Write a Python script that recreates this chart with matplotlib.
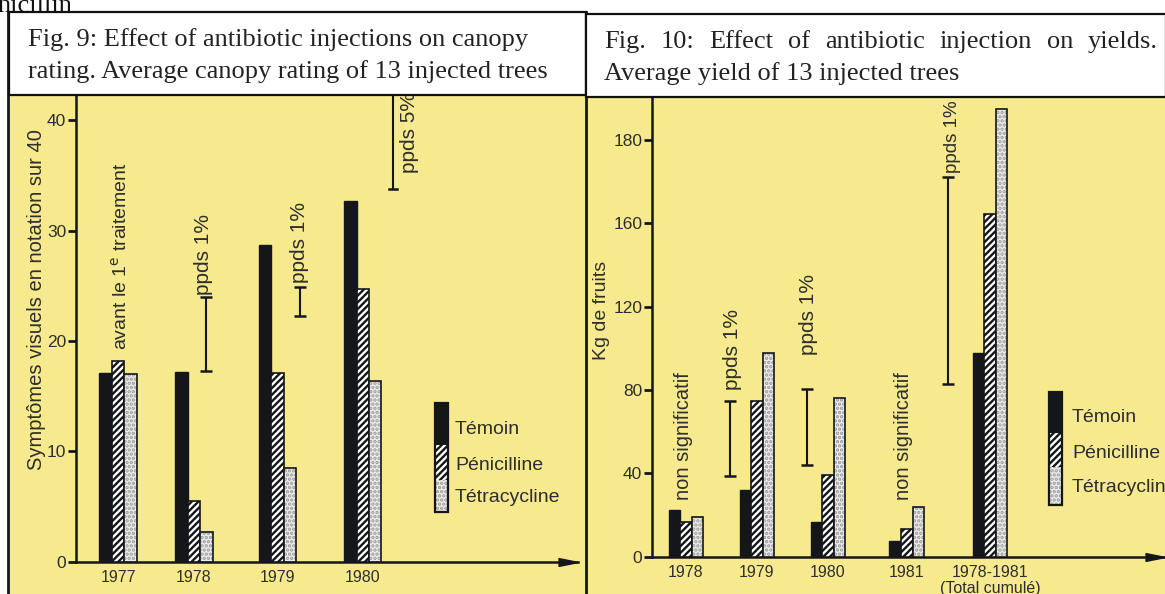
import matplotlib
matplotlib.use("Agg")
import matplotlib.pyplot as plt
from matplotlib.patches import Rectangle
from matplotlib.path import Path
from matplotlib.lines import Line2D

plt.rcParams["font.family"] = ["Liberation Sans", "DejaVu Sans"]
plt.rcParams["hatch.linewidth"] = 1.7

# ---- data: Fig. 9, canopy rating (notation sur 40)
years_l = ["1977", "1978", "1979", "1980"]
temoin_l = [17.1, 17.2, 28.7, 32.7]
penic_l = [18.2, 5.5, 17.1, 24.7]
tetra_l = [17.0, 2.7, 8.45, 16.4]
lsd_low_l = [17.3, 22.3, 33.8]
lsd_high_l = [24.0, 24.9, None]      # None: runs off the top
lsd_text_l = ["ppds 1%", "ppds 1%", "ppds 5%"]

# ---- data: Fig. 10, yields (kg de fruits)
years_r = ["1978", "1979", "1980", "1981", "1978-1981\n(Total cumulé)"]
temoin_r = [22.3, 32.1, 16.7, 7.6, 97.6]
penic_r = [16.5, 74.7, 39.3, 13.4, 164.3]
tetra_r = [19.1, 97.8, 76.3, 23.9, 214.8]
lsd_low_r = [38.6, 44.0, 82.9]
lsd_high_r = [74.7, 80.6, 182.0]
yticks_r = [0, 40, 80, 120, 160, 200]
ytick_labels_r = ["0", "40", "80", "120", "160", "180"]

legend_names = ["Témoin", "Pénicilline", "Tétracycline"]

# ---- layout (pixels of the 1165x594 picture)
W, H = 1165, 594
YELLOW = "#f6e98e"
INK = "#15161a"
TXT = "#2e2e2e"
STIP = "#ececea"
pos_l = [0, 1, 2.1, 3.22]
pos_r = [0, 1, 2, 3.11, 4.28]
bw = 0.163
FS = 14


def fig_box(x0, y0, x1, y1):
    return [x0 / W, 1 - y1 / H, (x1 - x0) / W, (y1 - y0) / H]


fig = plt.figure(figsize=(W / 100, H / 100), dpi=100)
fig.patch.set_facecolor("white")

# yellow panels and borders
for x0, y0, x1 in [(8, 93, 585), (586, 95, 1165)]:
    b = fig_box(x0, y0, x1, H)
    fig.add_artist(Rectangle((b[0], b[1]), b[2], b[3], transform=fig.transFigure,
                             facecolor=YELLOW, edgecolor="none", zorder=-2))
for x in [7.5, 585.5]:
    fig.add_artist(Line2D([x / W, x / W], [0, 1 - 12 / H], transform=fig.transFigure,
                          color=INK, lw=2, zorder=-1))

arrow = Path([(0, 0), (-1, 0.2), (-1, -0.2), (0, 0)],
             [Path.MOVETO, Path.LINETO, Path.LINETO, Path.CLOSEPOLY])


def draw_bars(ax, pos, t, p, c):
    xs = [x - bw for x in pos]
    ax.bar(xs, t, bw, color=INK, edgecolor=INK, lw=1, zorder=3)
    xs = list(pos)
    ax.bar(xs, p, bw, facecolor="white", edgecolor=INK, hatch="/////", lw=1.2, zorder=3)
    xs = [x + bw for x in pos]
    ax.bar(xs, c, bw, facecolor=STIP, edgecolor="#9a9a9a", hatch="....", lw=0, zorder=3)
    ax.bar(xs, c, bw, fill=False, edgecolor=INK, lw=1.2, zorder=4)


def style_axes(ax):
    ax.patch.set_visible(False)
    for s in ["top", "right"]:
        ax.spines[s].set_visible(False)
    for s in ["left", "bottom"]:
        ax.spines[s].set_linewidth(1.8)
        ax.spines[s].set_color(INK)
    ax.tick_params(axis="y", direction="out", length=6, width=2, color=INK,
                   labelsize=12.5, labelcolor=TXT, pad=1)
    ax.tick_params(axis="x", length=0, labelsize=11.5, labelcolor=TXT, pad=6)
    ax.plot(1, 0, marker=arrow, ms=28, color=INK, transform=ax.get_yaxis_transform(),
            clip_on=False, zorder=5)


def lsd(ax, x, lo, hi, top):
    if hi is None:
        ax.plot([x, x], [lo, top], color=INK, lw=1.5, zorder=4)
        ax.plot([x - 0.05, x + 0.05], [lo, lo], color=INK, lw=1.8, zorder=4)
    else:
        ax.errorbar([x], [(lo + hi) / 2], yerr=[(hi - lo) / 2], fmt="none",
                    ecolor=INK, elinewidth=1.5, capsize=4, capthick=1.8, zorder=4)


def legend_bar(x0, y_cuts, lab_x, lab_y):
    faces = [(INK, None, INK), ("white", "/////", INK), (STIP, "....", "#9a9a9a")]
    for i, (fc, hat, ec) in enumerate(faces):
        b = fig_box(x0, y_cuts[i], x0 + 13, y_cuts[i + 1])
        fig.add_artist(Rectangle((b[0], b[1]), b[2], b[3], transform=fig.transFigure,
                                 facecolor=fc, hatch=hat, edgecolor=ec, lw=0, zorder=0.5))
    b = fig_box(x0, y_cuts[0], x0 + 13, y_cuts[-1])
    fig.add_artist(Rectangle((b[0], b[1]), b[2], b[3], transform=fig.transFigure,
                             fill=False, edgecolor=INK, lw=1.6, zorder=0.6))
    for name, y in zip(legend_names, lab_y):
        fig.text(lab_x / W, 1 - y / H, name, fontsize=FS, color=TXT, va="center", ha="left")


# ---------------- Fig. 9
unit_l = 76.0
ax1 = fig.add_axes(fig_box(76, 95, 578, 561.7))
ax1.set_xlim((76 - 118) / unit_l, (578 - 118) / unit_l)
top_l = (561.7 - 95) / 11.04
ax1.set_ylim(0, top_l)
style_axes(ax1)
draw_bars(ax1, pos_l, temoin_l, penic_l, tetra_l)
ax1.set_xticks(pos_l)
ax1.set_xticklabels(years_l)
ax1.set_yticks([0, 10, 20, 30, 40])

ax1.text(0.03, 19.2, "avant le 1$^{\\rm e}$ traitement", rotation=90, ha="center",
         va="bottom", fontsize=FS, color=TXT)
lsd_x_l = [1.16, 2.39, 3.62]
text_x_l = [1.12, 2.39, 3.84]
text_y_l = [24.2, 25.2, 35.2]
for i in range(3):
    lsd(ax1, lsd_x_l[i], lsd_low_l[i], lsd_high_l[i], top_l + 5)
    ax1.text(text_x_l[i], text_y_l[i], lsd_text_l[i], rotation=90, ha="center",
             va="bottom", fontsize=FS + 1, color=TXT)
fig.text(37 / W, 1 - 300 / H, "Symptômes visuels en notation sur 40", rotation=90,
         ha="center", va="center", fontsize=14.5, color=TXT)
legend_bar(435, [403, 445, 480, 512], 455, [430, 465, 497])

# ---------------- Fig. 10
unit_r = 71.0
ax2 = fig.add_axes(fig_box(652, 97, 1165, 556.7))
ax2.set_xlim((652 - 686) / unit_r, (1165 - 686) / unit_r)
top_r = (556.7 - 97) / 2.084
ax2.set_ylim(0, top_r)
style_axes(ax2)
draw_bars(ax2, pos_r, temoin_r, penic_r, tetra_r)
ax2.set_xticks(pos_r)
ax2.set_xticklabels(years_r, linespacing=1.05)
ax2.set_yticks(yticks_r)
ax2.set_yticklabels(ytick_labels_r)

ax2.text(-0.04, 27.2, "non significatif", rotation=90, ha="center", va="bottom",
         fontsize=FS + 0.5, color=TXT)
ax2.text(3.07, 27.2, "non significatif", rotation=90, ha="center", va="bottom",
         fontsize=FS + 0.5, color=TXT)
lsd_x_r = [0.62, 1.70, 3.69]
text_x_r = [0.65, 1.72, 3.75]
text_y_r = [80.0, 96.8, 184.0]
for i in range(3):
    lsd(ax2, lsd_x_r[i], lsd_low_r[i], lsd_high_r[i], top_r)
    ax2.text(text_x_r[i], text_y_r[i], "ppds 1%", rotation=90, ha="center",
             va="bottom", fontsize=FS + (1 if i < 2 else -0.5), color=TXT)
fig.text(601 / W, 1 - 310 / H, "Kg de fruits", rotation=90, ha="center", va="center",
         fontsize=14, color=TXT)
legend_bar(1049, [392, 433, 467, 505], 1072, [418, 453, 487])

# ---------------- captions
fig.text(-3 / W, 1 - 12 / H, "nicillin", family="Liberation Serif", fontsize=19,
         color="#111", va="baseline", ha="left")
for x0, y0, x1, y1 in [(9, 12, 586, 95), (586, 14, 1166, 97)]:
    b = fig_box(x0, y0, x1, y1)
    fig.add_artist(Rectangle((b[0], b[1]), b[2], b[3], transform=fig.transFigure,
                             facecolor="white", edgecolor="#111", lw=1.6, zorder=2))

cap_kw = dict(family="Liberation Serif", fontsize=19, color="#222", va="center", zorder=3)
fig.text(28 / W, 1 - 40 / H, "Fig. 9: Effect of antibiotic injections on canopy", **cap_kw)
fig.text(28 / W, 1 - 72 / H, "rating. Average canopy rating of 13 injected trees", **cap_kw)

# justified first line of the second caption
words = "Fig. 10: Effect of antibiotic injection on yields.".split()
renderer = fig.canvas.get_renderer()
pieces = [fig.text(0, 1 - 42 / H, w, **cap_kw) for w in words]
widths = [t.get_window_extent(renderer).width for t in pieces]
x_start, x_end = 604, 1158
gap = (x_end - x_start - sum(widths)) / (len(words) - 1)
x = x_start
for t, w in zip(pieces, widths):
    t.set_x(x / W)
    x += w + gap
fig.text(604 / W, 1 - 74 / H, "Average yield of 13 injected trees", **cap_kw)

fig.savefig("out.png", dpi=100)
